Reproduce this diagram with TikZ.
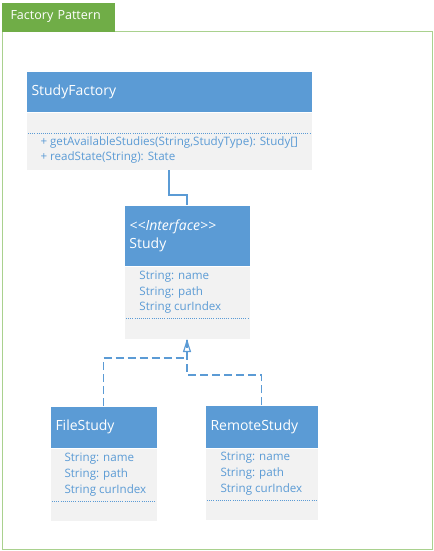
\documentclass[tikz,border=0pt]{standalone}
\usepackage{fontspec}
\setmainfont{Open Sans}
\usetikzlibrary{arrows.meta, positioning}
\definecolor{umlblue}{HTML}{5B9BD5}
\definecolor{umlgray}{HTML}{F2F2F2}
\definecolor{tabgreen}{HTML}{70AD47}
\definecolor{framegreen}{HTML}{A9D18E}
\def\px{0.75pt}
\begin{document}
\begin{tikzpicture}[x=0.75pt, y=-0.75pt, line width=0.75pt,
    head/.style={fill=umlblue, text=white, inner xsep=5*\px, inner ysep=0pt, align=left, font=\fontsize{10.5}{13.5}\selectfont},
    body/.style={fill=umlgray, inner sep=0pt},
    attr/.style={anchor=west, inner sep=0pt, text=umlblue, font=\fontsize{8.7}{10}\selectfont},
    sep/.style={umlblue, densely dotted, line width=0.6pt},
    link/.style={umlblue, line width=0.9pt},
    real/.style={umlblue, line width=0.9pt, dash pattern=on 6pt off 3pt}]
\useasboundingbox (0,0) rectangle (434,551);
% container
\node[draw=framegreen, minimum width=430*\px, minimum height=518*\px, anchor=north west, inner sep=0pt] (frame) at (2,31) {};
\node[fill=tabgreen, text=white, anchor=north west, minimum width=112*\px, minimum height=29*\px, text width=96*\px, inner xsep=8*\px, font=\fontsize{9.4}{11}\selectfont] (tab) at (2,2) {Factory Pattern};
% classes
\node[head, text width=275*\px, minimum height=40*\px, anchor=north west] (sf) at (26,71) {StudyFactory};
\node[body, minimum width=285*\px, minimum height=57*\px, below=0pt of sf] (sfb) {};
\node[head, text width=115*\px, minimum height=60*\px, anchor=north west] (st) at (124,205) {\textit{{<}{<}Interface{>}{>}}\\Study};
\node[body, minimum width=125*\px, minimum height=72*\px, below=0pt of st] (stb) {};
\node[head, text width=96*\px, minimum height=41*\px, anchor=north west] (fs) at (50,406) {FileStudy};
\node[body, minimum width=106*\px, minimum height=72*\px, below=0pt of fs] (fsb) {};
\node[head, text width=102*\px, minimum height=42*\px, anchor=north west] (rs) at (205,405) {RemoteStudy};
\node[body, minimum width=112*\px, minimum height=71*\px, below=0pt of rs] (rsb) {};
% members
\node[attr] (m1) at (40,142) {+ getAvailableStudies(String,StudyType): Study[]};
\node[attr] (m2) at (40,157) {+ readState(String): State};
\foreach \c/\x/\y in {st/139/260.5, fs/64/443, rs/220/442}{
    \foreach \t [count=\i] in {String: name, String: path, String curIndex}
        \node[attr] (\c-\i) at (\x,\y+15.8*\i) {\t};}
\foreach \c/\d in {sfb/21, stb/52, fsb/53, rsb/52}
    \draw[sep] ([xshift=2*\px, yshift=-\d*\px]\c.north west) -- ([xshift=-2*\px, yshift=-\d*\px]\c.north east);
% connectors
\draw[link] (sfb.south) -- ++(0,25) -| (st.north);
\draw[real, -{Triangle[open, length=13*\px, width=8*\px]}] (fs.north) -- ++(0,-48) -| (stb.south);
\draw[real] (rs.north) -- ++(0,-30) -| (stb.south);
\end{tikzpicture}
\end{document}
